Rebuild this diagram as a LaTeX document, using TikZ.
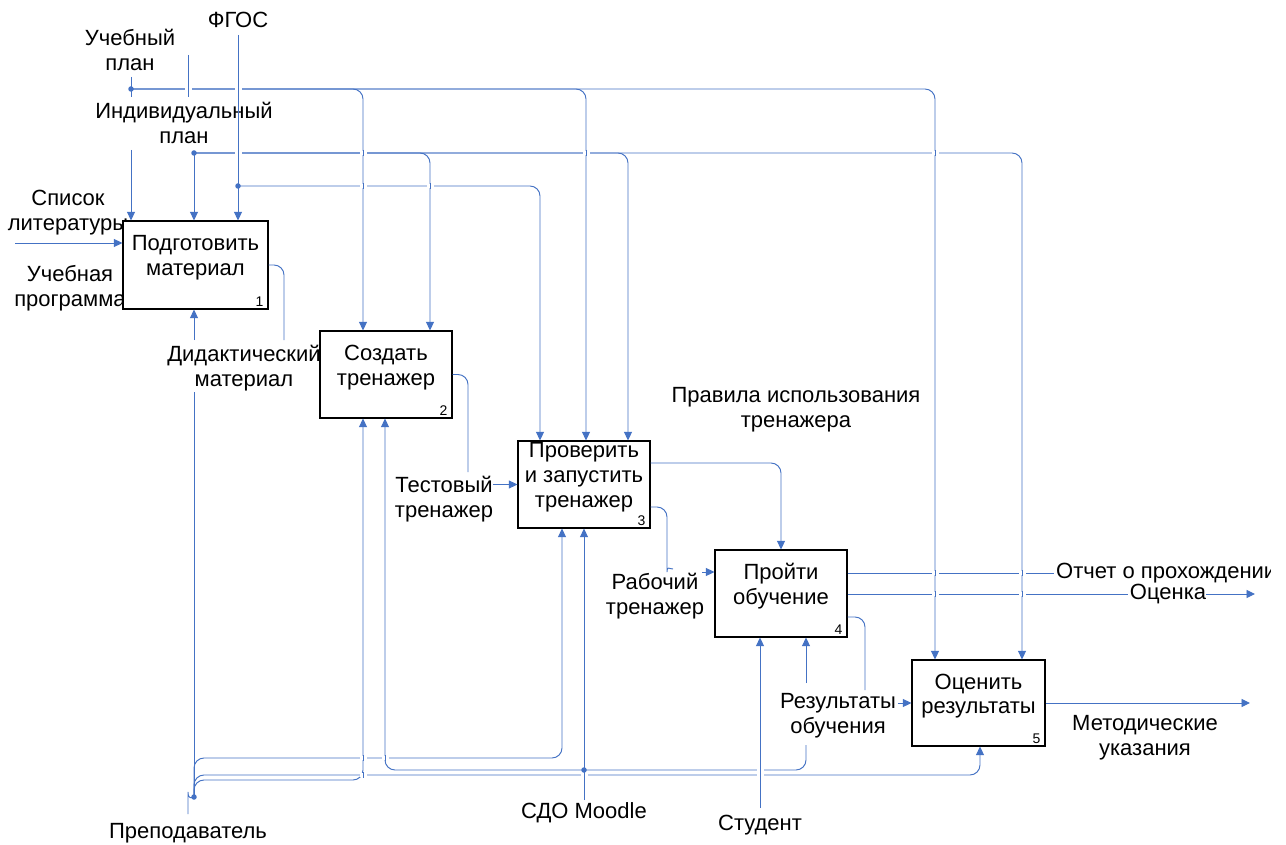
\documentclass[tikz,border=0pt]{standalone}
\usepackage{fontspec}
\setmainfont{Liberation Sans}
\usetikzlibrary{arrows.meta}
\definecolor{ln}{RGB}{68,114,196}
\newcommand\fs{\fontsize{22}{24.8}\selectfont}
\newcommand\fsn{\fontsize{14}{15}\selectfont}
\newcommand\xgap[2]{\fill[white] ({#1-3.5},{#2-2}) rectangle ({#1+3.5},{#2+2});
  \draw[ln,line width=0.95pt] (#1,{#2-3}) -- (#1,{#2+3});}
\begin{document}
\begin{tikzpicture}[x=1pt,y=-1pt,
  conn/.style={draw=ln, line width=0.95pt, rounded corners=10pt},
  arr/.style={conn, -{Triangle[length=8.5pt,width=8pt]}},
  func/.style={draw=black, line width=1.2pt, fill=white, inner sep=0pt},
  ftext/.style={font=\fs, align=center, inner sep=0pt},
  num/.style={font=\fsn, anchor=south east, inner sep=0pt},
  lbl/.style={font=\fs, align=center, inner sep=1pt},
  dot/.style={circle, fill=ln, inner sep=0pt, minimum size=5.5pt},
]
\useasboundingbox[fill=white] (0,0) rectangle (1286,845);

% labels under box 1
\node[lbl] (lSL) at (68,213) {Список\\литературы};
\node[lbl] (lUPr) at (70,288) {Учебная\\программа};

% function boxes
\node[func, minimum width=145pt, minimum height=88pt] (b1) at (195.5,265) {};
\node[func, minimum width=132pt, minimum height=87pt] (b2) at (386,374.5) {};
\node[func, minimum width=132pt, minimum height=87pt] (b3) at (584,484.5) {};
\node[func, minimum width=132pt, minimum height=87pt] (b4) at (781,593.5) {};
\node[func, minimum width=133pt, minimum height=86pt] (b5) at (978.5,703) {};
\node[ftext] (t1) at ([yshift=7pt]b1.center) {Подготовить\\материал};
\node[ftext] (t2) at ([yshift=7pt]b2.center) {Создать\\тренажер};
\node[ftext] (t3) at ([yshift=7pt]b3.center) {Проверить\\и запустить\\тренажер};
\node[ftext] (t4) at ([yshift=7pt]b4.center) {Пройти\\обучение};
\node[ftext] (t5) at ([yshift=7pt]b5.center) {Оценить\\результаты};
\node[num] (n1) at ([xshift=-5pt,yshift=3pt]b1.south east) {1};
\node[num] (n2) at ([xshift=-5pt,yshift=3pt]b2.south east) {2};
\node[num] (n3) at ([xshift=-5pt,yshift=3pt]b3.south east) {3};
\node[num] (n4) at ([xshift=-5pt,yshift=3pt]b4.south east) {4};
\node[num] (n5) at ([xshift=-5pt,yshift=3pt]b5.south east) {5};

% other labels
\node[lbl] (lUP) at (130,50) {Учебный\\план};
\node[lbl] (lF) at (238,20) {ФГОС};
\node[lbl] (lIP) at (184,123) {Индивидуальный\\план};
\node[lbl] (lDM) at (244,368) {Дидактический\\материал};
\node[lbl] (lTT) at (444,499) {Тестовый\\тренажер};
\node[lbl] (lPR) at (796,410) {Правила использования\\тренажера};
\node[lbl] (lRT) at (655,596) {Рабочий\\тренажер};
\begin{scope}
\clip (1040,555) rectangle (1270,595);
\node[lbl,anchor=west] (lOP) at (1055,573) {Отчет о прохождении};
\end{scope}
\node[lbl] (lOc) at (1168,594) {Оценка};
\node[lbl] (lRO) at (838,716) {Результаты\\обучения};
\node[lbl] (lMU) at (1145,738) {Методические\\указания};
\node[lbl] (lSDO) at (584,813) {СДО Moodle};
\node[lbl] (lSt) at (760,825) {Студент};
\node[lbl] (lPr) at (188,833) {Преподаватель};

% junctions
\coordinate (jUP) at (131,89);
\coordinate (jIP) at (194,153);
\coordinate (jF) at (238,186);
\coordinate (jP) at (194,797);
\coordinate (jS) at (584,770);

% controls from the top
\draw[arr] (jF) -| (540,0 |- b3.north);
\draw[arr] (jIP) -| (430,0 |- b2.north);
\draw[arr] (jIP) -| (628,0 |- b3.north);
\draw[arr] (jIP) -| (1022,0 |- b5.north);
\draw[arr] (jUP) -| (363,0 |- b2.north);
\draw[arr] (jUP) -| (586,0 |- b3.north);
\draw[arr] (jUP) -| (935,0 |- b5.north);
\draw[conn] (131,77) -- (131,97);
\draw[arr] (131,150) -- (131,0 |- b1.north);
\draw[conn] (188,55) -- (188,97);
\draw[arr] (238,35) -- (238,0 |- b1.north);
\draw[arr] (jIP) -- (194,0 |- b1.north);

% flows between boxes
\draw[arr] (15,243) -- (b1.west |- 0,243);
\draw[conn] (b1.east) -| (284,340);
\draw[conn] (b2.east) -| (468,472);
\draw[arr] (493,0 |- b3.west) -- (b3.west);
\draw[arr] (b3.east |- 0,463) -| (781,0 |- b4.north);
\draw[conn] (b3.east |- 0,507) -- (667,507) -- (667,562) to[out=-90,in=180] (673,569);
\draw[arr] (702,572) -- (b4.west |- 0,572);
\draw[conn] (b4.east |- 0,573) -- (1054,573);
\draw[conn] (b4.east |- 0,594) -- (1128,594);
\draw[arr] (1206,594) -- (1255,594);
\draw[conn] (b4.east |- 0,617) -| (865,690);
\draw[arr] (898,0 |- b5.west) -- (b5.west);
\draw[arr] (b5.east) -- (1250,0 |- b5.east);

% mechanisms from the bottom
\draw[conn] (188,814) -- (188,802) to[out=90,in=200] (jP);
\draw[conn] (jP) -- (194,392);
\draw[arr] (194,340) -- (194,0 |- b1.south);
\draw[arr] (jP) -- (194,758) -- (562,758) -- (562,0 |- b3.south);
\draw[arr] (jP) -- (194,775) -- (980,775) -- (980,0 |- b5.south);
\draw[arr] (jP) -- (194,780) -- (363,780) -- (363,0 |- b2.south);
\draw[arr] (jS) -- (385,770) -- (385,0 |- b2.south);
\draw[conn] (jS) -- (806,770) -- (806,745);
\draw[arr] (806,683) -- (806,0 |- b4.south);
\draw[arr] (584,800) -- (584,0 |- b3.south);
\draw[arr] (760,808) -- (760,0 |- b4.south);

% line crossings
\xgap{188}{89}\xgap{238}{89}\xgap{238}{153}\xgap{363}{153}\xgap{586}{153}
\xgap{935}{153}\xgap{363}{186}\xgap{430}{186}
\xgap{935}{573}\xgap{1022}{573}\xgap{935}{594}\xgap{1022}{594}
\xgap{363}{758}\xgap{385}{758}\xgap{363}{775}\xgap{584}{775}\xgap{760}{775}\xgap{760}{770}

% junction dots
\foreach \j in {jUP,jIP,jF,jP,jS} \node[dot] at (\j) {};
\end{tikzpicture}
\end{document}
